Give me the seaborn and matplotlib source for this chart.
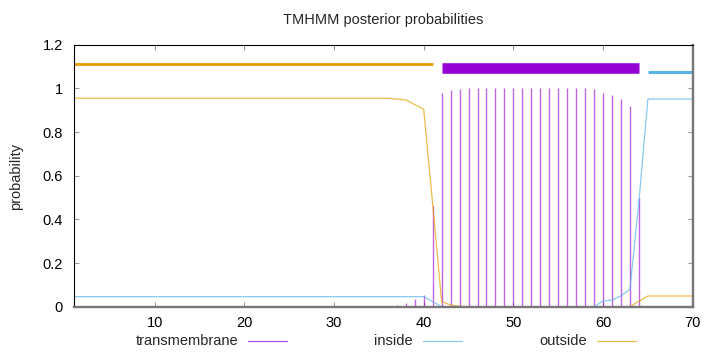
import numpy as np
import pandas as pd
import seaborn as sns
import matplotlib.pyplot as plt
from matplotlib.lines import Line2D

# residue positions
positions = list(range(1, 71))

# posterior probabilities
outside = [0.955, 0.955, 0.955, 0.955, 0.955, 0.955, 0.955, 0.955, 0.955, 0.955,
           0.955, 0.955, 0.955, 0.955, 0.955, 0.955, 0.955, 0.955, 0.955, 0.955,
           0.955, 0.955, 0.955, 0.955, 0.955, 0.955, 0.955, 0.955, 0.955, 0.955,
           0.955, 0.955, 0.955, 0.955, 0.955, 0.955, 0.951, 0.947, 0.926, 0.904,
           0.47, 0.023, 0.008, 0.002, 0.0, 0.0, 0.0, 0.0, 0.0, 0.0,
           0.0, 0.0, 0.0, 0.0, 0.0, 0.0, 0.0, 0.0, 0.0, 0.0,
           0.0, 0.0, 0.0, 0.025, 0.049, 0.049, 0.049, 0.049, 0.049, 0.049]
inside = [0.046, 0.046, 0.046, 0.046, 0.046, 0.046, 0.046, 0.046, 0.046, 0.046,
          0.046, 0.046, 0.046, 0.046, 0.046, 0.046, 0.046, 0.046, 0.046, 0.046,
          0.046, 0.046, 0.046, 0.046, 0.046, 0.046, 0.046, 0.046, 0.046, 0.046,
          0.046, 0.046, 0.046, 0.046, 0.046, 0.046, 0.046, 0.046, 0.046, 0.046,
          0.023, 0.0, 0.0, 0.0, 0.0, 0.0, 0.0, 0.0, 0.0, 0.0,
          0.0, 0.0, 0.0, 0.0, 0.0, 0.0, 0.0, 0.0, 0.0, 0.026,
          0.03, 0.05, 0.08, 0.48, 0.951, 0.951, 0.951, 0.951, 0.951, 0.951]
transmembrane = [0.0, 0.0, 0.0, 0.0, 0.0, 0.0, 0.0, 0.0, 0.0, 0.0,
                 0.0, 0.0, 0.0, 0.0, 0.0, 0.0, 0.0, 0.0, 0.0, 0.0,
                 0.0, 0.0, 0.0, 0.0, 0.0, 0.0, 0.0, 0.0, 0.0, 0.0,
                 0.0, 0.0, 0.0, 0.0, 0.0, 0.003, 0.008, 0.015, 0.035, 0.055,
                 0.46, 0.977, 0.993, 0.999, 1.0, 1.0, 1.0, 1.0, 1.0, 1.0,
                 1.0, 1.0, 1.0, 1.0, 1.0, 1.0, 1.0, 1.0, 0.996, 0.977,
                 0.971, 0.95, 0.919, 0.50, 0.0, 0.0, 0.0, 0.0, 0.0, 0.0]

# predicted topology (bars on top)
region_start = [1, 42, 65]
region_end = [41, 64, 70]
region_kind = ["outside", "TMhelix", "inside"]
region_level = [1.112, 1.092, 1.073]

x_ticks = [10, 20, 30, 40, 50, 60, 70]
y_ticks = [0, 0.2, 0.4, 0.6, 0.8, 1.0, 1.2]
y_labels = ["0", "0.2", "0.4", "0.6", "0.8", "1", "1.2"]

c_tm = "#9400d3"
c_in = "#56b4e9"
c_out = "#e69f00"
kind_color = {"outside": c_out, "TMhelix": c_tm, "inside": c_in}
kind_width = {"outside": 2.0, "TMhelix": 7.6, "inside": 2.2}

df = pd.DataFrame({"pos": positions, "inside": inside,
                   "outside": outside, "tm": transmembrane})

sns.set_style("ticks")
plt.rcParams["font.family"] = ["Liberation Sans", "DejaVu Sans"]
plt.rcParams["font.size"] = 10.5

fig = plt.figure(figsize=(7.2, 3.52), dpi=100)
ax = fig.add_axes([74 / 720, 1 - 306.7 / 352, (692.7 - 74) / 720, (306.7 - 44.7) / 352])

ax.vlines(df["pos"], 0, df["tm"], color=c_tm, alpha=0.6, lw=1.0)
sns.lineplot(data=df, x="pos", y="inside", ax=ax, color=c_in, lw=0.9, alpha=0.7)
sns.lineplot(data=df, x="pos", y="outside", ax=ax, color=c_out, lw=0.9, alpha=0.7)

for s, e, k, lv in zip(region_start, region_end, region_kind, region_level):
    ax.hlines(lv, s, e, color=kind_color[k], lw=kind_width[k], capstyle="butt")

ax.set_xlim(1, 70)
ax.set_ylim(0, 1.2)
ax.set_xticks(x_ticks)
ax.set_xticklabels([str(t) for t in x_ticks])
ax.set_yticks(y_ticks)
ax.set_yticklabels(y_labels)
ax.tick_params(direction="in", top=True, right=True, length=3.5, width=0.8,
               labelsize=10.5, color="#9a9a9a", labelcolor="black")
ax.tick_params(axis="y", pad=8)
ax.tick_params(axis="x", pad=7)
ax.set_xlabel("")
ax.set_ylabel("")

for side in ["left", "top"]:
    ax.spines[side].set_color("black")
    ax.spines[side].set_linewidth(0.8)
for side in ["bottom", "right"]:
    ax.spines[side].set_color("#777777")
    ax.spines[side].set_linewidth(1.7)

fig.text(383 / 720, 1 - 20 / 352, "TMHMM posterior probabilities",
         ha="center", va="center", fontsize=10.5)
fig.text(16 / 720, 1 - 176 / 352, "probability", rotation=90,
         ha="center", va="center", fontsize=10.5)

# key at the bottom, gnuplot style: right-justified text then sample
key_names = ["transmembrane", "inside", "outside"]
key_colors = [c_tm, c_in, c_out]
key_text_end = [238, 413, 587]
for name, col, xe in zip(key_names, key_colors, key_text_end):
    fig.text(xe / 720, 1 - 341 / 352, name, ha="right", va="center", fontsize=10.5)
    fig.add_artist(Line2D([(xe + 10) / 720, (xe + 49) / 720],
                          [1 - 341 / 352, 1 - 341 / 352],
                          color=col, lw=0.9, alpha=0.7))

fig.savefig("out.png", dpi=100)
